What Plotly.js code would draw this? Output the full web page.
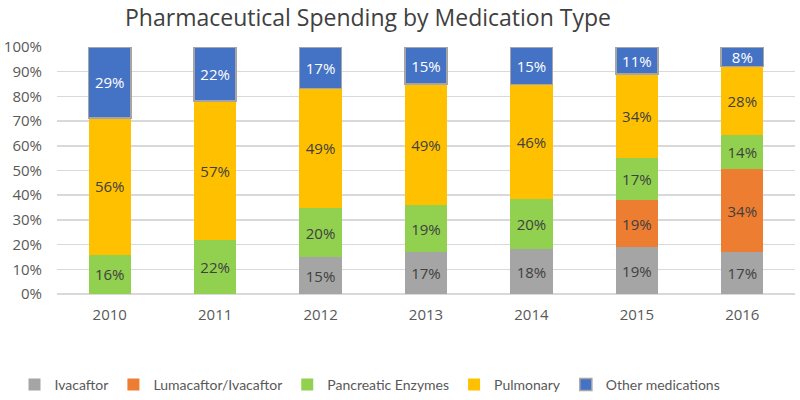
<!DOCTYPE html>
<html>
<head>
<meta charset="utf-8">
<script src="https://cdn.plot.ly/plotly-3.0.1.min.js"></script>
<style>html,body{margin:0;padding:0;background:#fff;}#chart{width:800px;height:400px;}</style>
</head>
<body>
<div id="chart"></div>
<script>
var years = ['2010', '2011', '2012', '2013', '2014', '2015', '2016'];
var ivacaftor = [0, 0, 15, 17, 18, 19, 17];
var lumacaftor = [0, 0, 0, 0, 0, 19, 34];
var pancreatic = [16, 22, 20, 19, 20, 17, 14];
var pulmonary = [56, 57, 49, 49, 46, 34, 28];
var other = [29, 22, 17, 15, 15, 11, 8];

var series = [
  {name: 'Ivacaftor', values: ivacaftor, color: '#A5A5A5', text: '#404040'},
  {name: 'Lumacaftor/Ivacaftor', values: lumacaftor, color: '#ED7D31', text: '#404040'},
  {name: 'Pancreatic Enzymes', values: pancreatic, color: '#92D050', text: '#404040'},
  {name: 'Pulmonary', values: pulmonary, color: '#FFC000', text: '#404040'},
  {name: 'Other medications', values: other, color: '#4472C4', text: '#FFFFFF', border: true}
];

var traces = series.map(function(s) {
  return {
    type: 'bar',
    name: s.name,
    x: years,
    y: s.values,
    text: s.values.map(function(v) { return v > 0 ? v + '%' : ''; }),
    textposition: 'inside',
    insidetextanchor: 'middle',
    textangle: 0,
    constraintext: 'none',
    textfont: {family: 'Open Sans, sans-serif', size: 15, color: s.text},
    hoverinfo: 'name+y',
    marker: {color: s.color, line: {color: s.border ? '#A5A5A5' : 'rgba(0,0,0,0)', width: s.border ? 1.5 : 0}}
  };
});

var layout = {
  width: 800, height: 400,
  margin: {l: 57, r: 5, t: 47, b: 106},
  paper_bgcolor: '#ffffff', plot_bgcolor: '#ffffff',
  barmode: 'stack',
  barnorm: 'percent',
  bargap: 0.6,
  title: {text: 'Pharmaceutical Spending by Medication Type', x: 0.46, xanchor: 'center', y: 0.955, yanchor: 'middle',
          font: {family: 'Open Sans, sans-serif', size: 23, color: '#404040'}},
  xaxis: {type: 'category', tickfont: {family: 'Open Sans, sans-serif', size: 15, color: '#595959'},
          showline: false, ticks: '', showgrid: false, ticklabelstandoff: 10},
  yaxis: {range: [0, 100], dtick: 10, ticksuffix: '%', gridcolor: '#D9D9D9', gridwidth: 1.5,
          zeroline: true, zerolinecolor: '#D9D9D9', zerolinewidth: 1.5, ticklabelstandoff: 14,
          tickfont: {family: 'Open Sans, sans-serif', size: 15, color: '#595959'}, ticks: '', showline: false},
  legend: {orientation: 'h', xref: 'container', yref: 'container', x: 0.4625, xanchor: 'center', y: 0.0375, yanchor: 'middle', traceorder: 'normal',
           font: {family: 'Lato, sans-serif', size: 14, color: '#595959'}, itemwidth: 30},
  showlegend: true
};

Plotly.newPlot('chart', traces, layout, {displayModeBar: false, staticPlot: true});
</script>
</body>
</html>
